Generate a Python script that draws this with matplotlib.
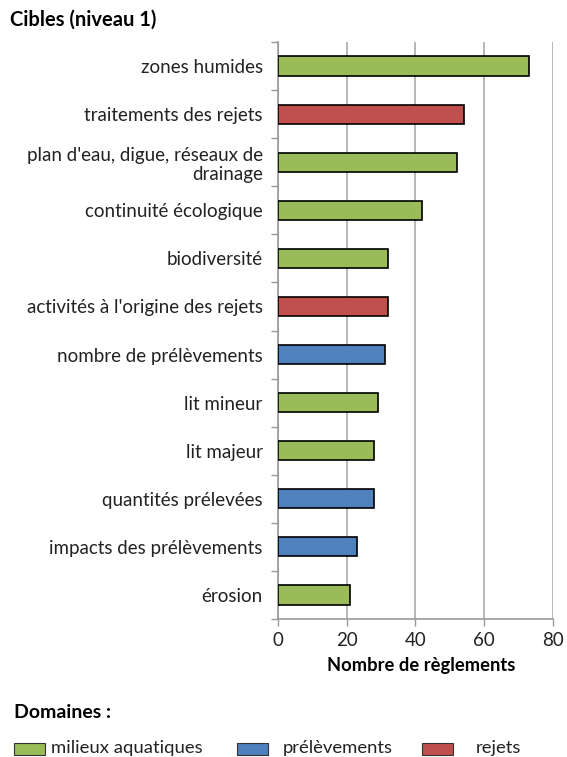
import matplotlib
matplotlib.use("Agg")
import matplotlib.pyplot as plt
from matplotlib.patches import Rectangle

categories = [
    "zones humides",
    "traitements des rejets",
    "plan d'eau, digue, réseaux de\ndrainage",
    "continuité écologique",
    "biodiversité",
    "activités à l'origine des rejets",
    "nombre de prélèvements",
    "lit mineur",
    "lit majeur",
    "quantités prélevées",
    "impacts des prélèvements",
    "érosion",
]
values = [73, 54, 52, 42, 32, 32, 31, 29, 28, 28, 23, 21]
domains = ["milieux aquatiques", "rejets", "milieux aquatiques", "milieux aquatiques",
           "milieux aquatiques", "rejets", "prélèvements", "milieux aquatiques",
           "milieux aquatiques", "prélèvements", "prélèvements", "milieux aquatiques"]
domain_names = ["milieux aquatiques", "prélèvements", "rejets"]
domain_colors = {"milieux aquatiques": "#9BBB59", "prélèvements": "#4F81BD", "rejets": "#C0504D"}
xticks = [0, 20, 40, 60, 80]

plt.rcParams['font.family'] = ['Lato', 'DejaVu Sans']

W, H = 567, 757
fig = plt.figure(figsize=(W / 100, H / 100), dpi=100)
ax = fig.add_axes([278/W, 1 - 619/H, (553-278)/W, (619-42)/H])

n = len(categories)
ypos = list(range(n))
ax.barh(ypos, values, height=0.4, color=[domain_colors[d] for d in domains],
        edgecolor="black", linewidth=1.2, zorder=3)
ax.set_ylim(n - 0.5, -0.5)
ax.set_xlim(0, 80)
ax.set_xticks(xticks)
ax.set_xticklabels([str(t) for t in xticks], fontsize=13.5, color="#222222")
ax.set_yticks(ypos)
ax.set_yticklabels(categories, fontsize=13.5, color="#222222", ha="right",
                   multialignment="right", linespacing=1.15)
ax.set_yticks([i - 0.5 for i in range(n + 1)], minor=True)
ax.tick_params(axis="y", which="major", length=0, pad=11)
ax.tick_params(axis="y", which="minor", length=5, color="#999999", width=1)
ax.tick_params(axis="x", length=5, color="#999999", width=1, pad=4)
ax.grid(axis="x", color="#AAAAAA", linewidth=1.2, zorder=0)
for s in ["top", "right"]:
    ax.spines[s].set_visible(False)
for s in ["left", "bottom"]:
    ax.spines[s].set_color("#999999")
    ax.spines[s].set_linewidth(1.2)
ax.set_xlabel("Nombre de règlements", fontsize=13.2, fontweight="bold", labelpad=2)
ax.xaxis.set_label_coords(421 / W, 1 - 665 / H, transform=fig.transFigure)
ax.xaxis.label.set_va("center")

fig.text(10/W, 1 - 20/H, "Cibles (niveau 1)", fontsize=14.5, fontweight="bold",
         va="center", ha="left")
fig.text(14/W, 1 - 713/H, "Domaines :", fontsize=14, fontweight="bold",
         va="center", ha="left")

# legend
patch_x = [14, 237, 422]
text_x = [51, 283, 476]
for d, px, tx in zip(domain_names, patch_x, text_x):
    fig.patches.append(Rectangle((px / W, 1 - 755/H), 31 / W, 12 / H,
                                 transform=fig.transFigure, facecolor=domain_colors[d],
                                 edgecolor="#333333", linewidth=0.8))
    fig.text(tx / W, 1 - 748/H, d, fontsize=13.3, va="center", ha="left", color="#222222")

fig.savefig("out.png", dpi=100)
